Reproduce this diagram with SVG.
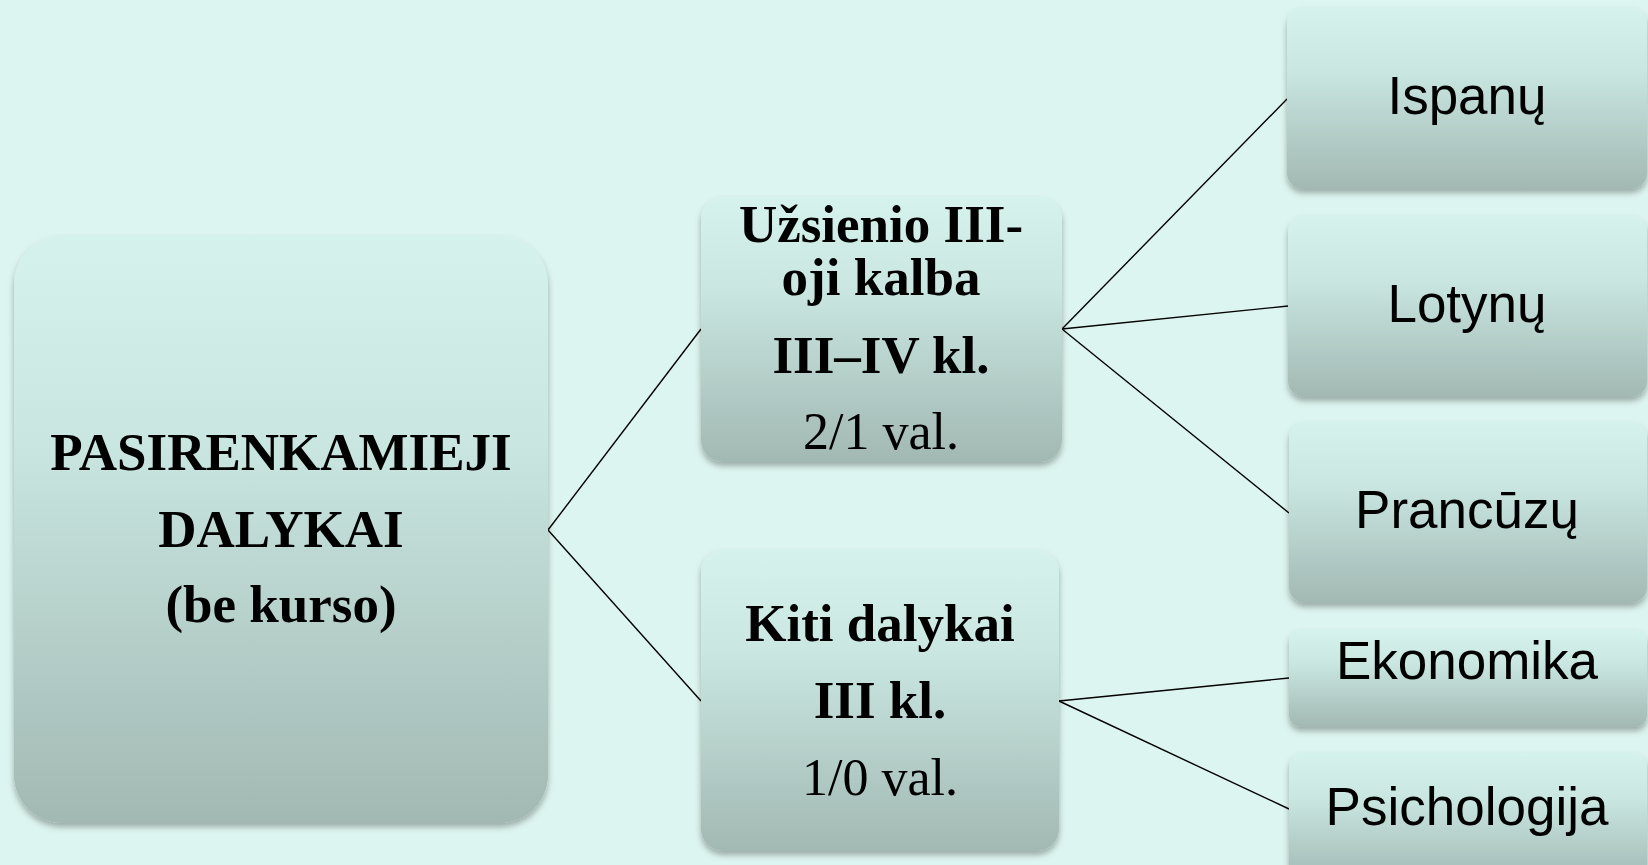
<svg xmlns="http://www.w3.org/2000/svg" width="1648" height="865" viewBox="0 0 1648 865">
<defs>
<linearGradient id="g" x1="0" y1="0" x2="0" y2="1">
<stop offset="0" stop-color="#D5F2EC"/>
<stop offset="0.35" stop-color="#C9E6E0"/>
<stop offset="1" stop-color="#A2B8B3"/>
</linearGradient>
<filter id="sh" x="-10%" y="-10%" width="120%" height="125%">
<feDropShadow dx="0" dy="4" stdDeviation="3" flood-color="#000" flood-opacity="0.3"/>
</filter>
<style>
.box{fill:url(#g);filter:url(#sh)}
.tb{font-family:"Liberation Serif","Times New Roman",serif;font-weight:bold;font-size:53px;fill:#000;text-anchor:middle}
.tr{font-family:"Liberation Serif","Times New Roman",serif;font-size:52px;fill:#000;text-anchor:middle}
.ts{font-family:"Liberation Sans",Arial,sans-serif;font-size:53px;fill:#000;text-anchor:middle}
.c{stroke:#000;stroke-width:1.4;fill:none}
</style>
</defs>
<rect width="1648" height="865" fill="#DDF5F0"/>
<g id="connectors">
<line class="c" x1="548" y1="530" x2="701" y2="329"/>
<line class="c" x1="548" y1="530" x2="701" y2="701"/>
<line class="c" x1="1062" y1="329" x2="1287" y2="99"/>
<line class="c" x1="1062" y1="329" x2="1288" y2="306"/>
<line class="c" x1="1062" y1="329" x2="1289" y2="513"/>
<line class="c" x1="1059" y1="701" x2="1289" y2="678"/>
<line class="c" x1="1059" y1="701" x2="1289" y2="809"/>
</g>
<g id="root">
<rect class="box" x="14" y="236" width="534" height="587" rx="48"/>
<text class="tb" x="281" y="470">PASIRENKAMIEJI</text>
<text class="tb" x="281" y="547">DALYKAI</text>
<text class="tb" x="281" y="622">(be kurso)</text>
</g>
<g id="uzsienio">
<rect class="box" x="701" y="197" width="361" height="265" rx="22"/>
<text class="tb" x="881" y="242">Užsienio III-</text>
<text class="tb" x="881" y="295">oji kalba</text>
<text class="tb" x="881" y="373">III–IV kl.</text>
<text class="tr" x="881" y="449">2/1 val.</text>
</g>
<g id="kiti">
<rect class="box" x="701" y="550" width="358" height="301" rx="22"/>
<text class="tb" x="880" y="641">Kiti dalykai</text>
<text class="tb" x="880" y="718">III kl.</text>
<text class="tr" x="880" y="795">1/0 val.</text>
</g>
<g id="ispanu">
<rect class="box" x="1287" y="8" width="360" height="181" rx="16"/>
<text class="ts" x="1467" y="114">Ispanų</text>
</g>
<g id="lotynu">
<rect class="box" x="1288" y="216" width="359" height="181" rx="16"/>
<text class="ts" x="1467" y="322">Lotynų</text>
</g>
<g id="prancuzu">
<rect class="box" x="1289" y="422" width="358" height="181" rx="16"/>
<text class="ts" x="1467" y="528">Prancūzų</text>
</g>
<g id="ekonomika">
<rect class="box" x="1289" y="630" width="358" height="97" rx="12"/>
<text class="ts" x="1467" y="679">Ekonomika</text>
</g>
<g id="psichologija">
<rect class="box" x="1289" y="753" width="358" height="130" rx="14"/>
<text class="ts" x="1467" y="825">Psichologija</text>
</g>
</svg>
